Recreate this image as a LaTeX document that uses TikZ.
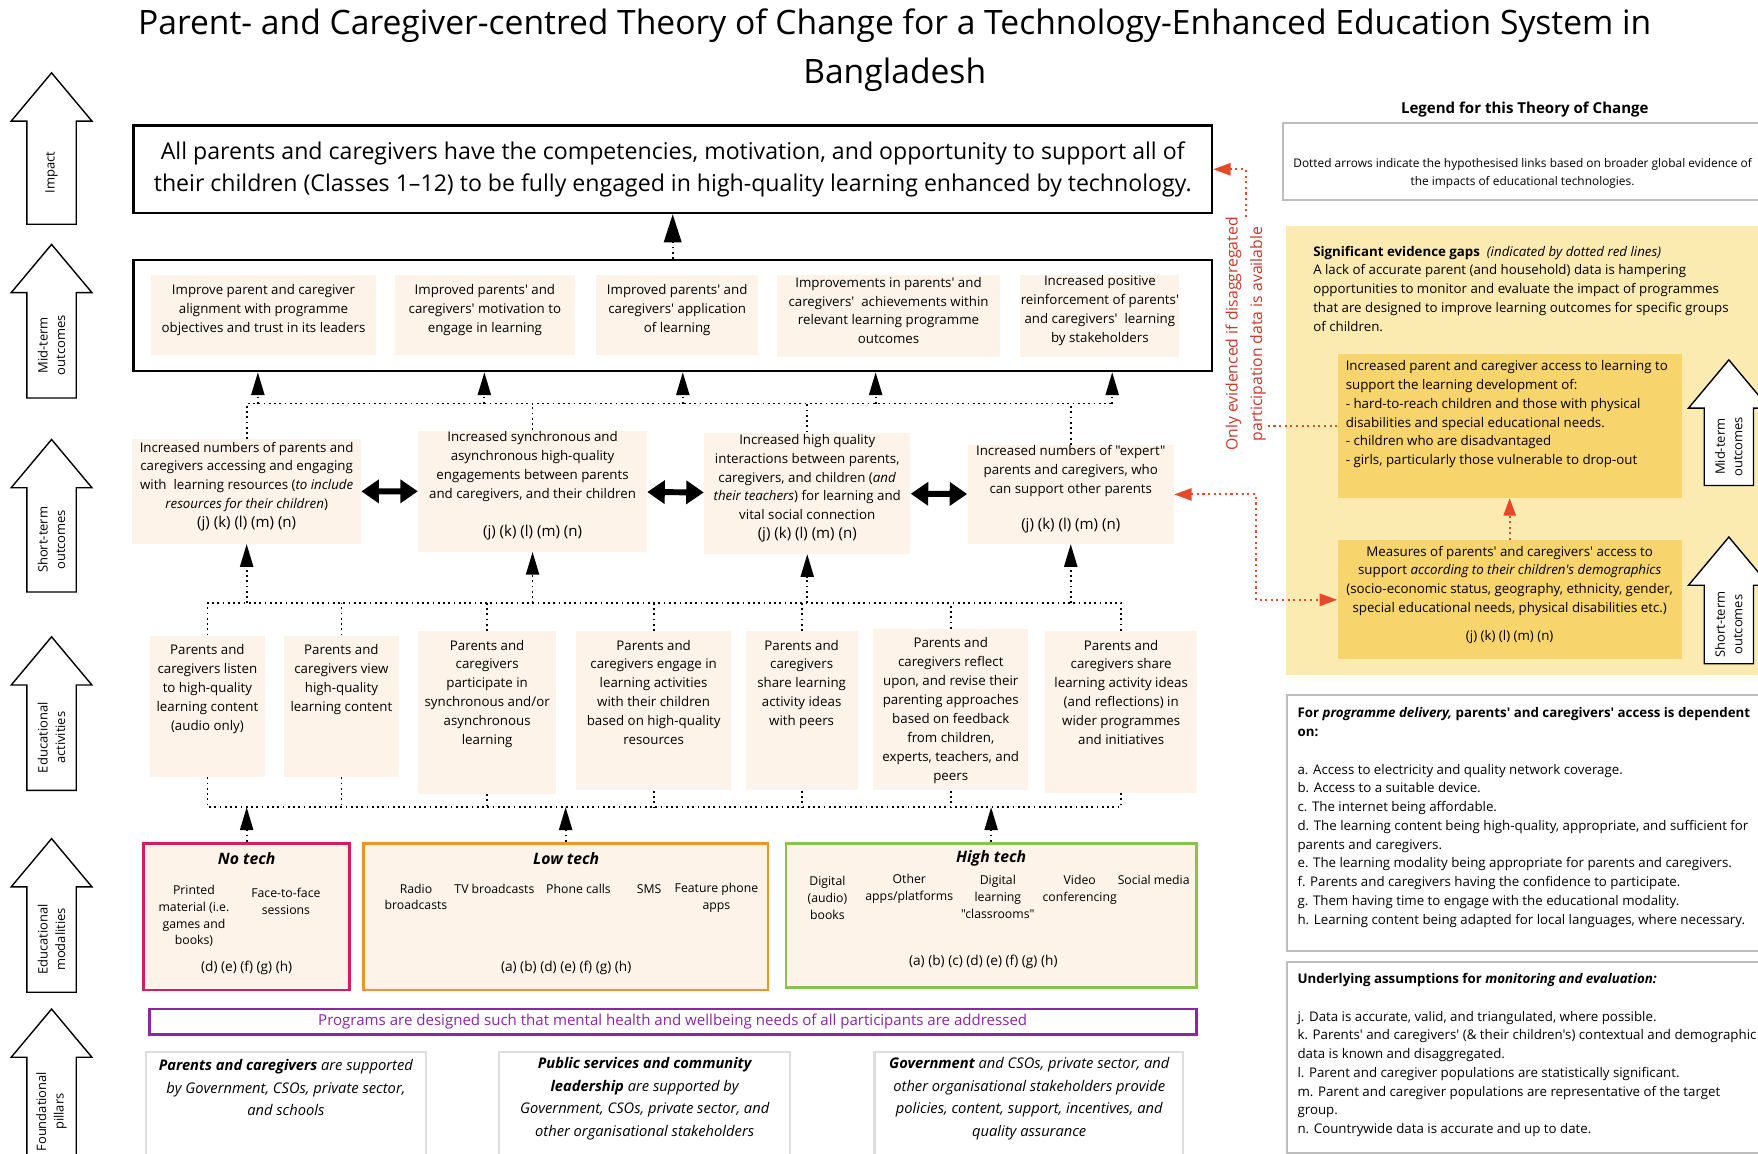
\documentclass[tikz,border=0pt]{standalone}
\usepackage{fontspec}
\setmainfont{Open Sans}[Ligatures=TeXOff]
\usetikzlibrary{arrows.meta,fit,positioning}

\definecolor{cream}{HTML}{FDF3E8}
\definecolor{lyel}{HTML}{FCEBB1}
\definecolor{dyel}{HTML}{F8D46C}
\definecolor{ered}{HTML}{E8482A}
\definecolor{tred}{HTML}{C9372C}
\definecolor{notech}{HTML}{D81B60}
\definecolor{lowtech}{HTML}{F0932B}
\definecolor{hightech}{HTML}{8BC34A}
\definecolor{purp}{HTML}{8E24AA}
\definecolor{lgrey}{HTML}{BDBDBD}

\newcommand{\fsz}[2]{\fontsize{#1}{#2}\selectfont}

\tikzset{
  txt/.style={font=\fsz{7.6}{10.8}, align=center, inner sep=0},
  item/.style={font=\fsz{7}{9.6}, align=center, inner sep=0},
  cbox/.style={fill=cream, inner sep=0},
  frame/.style={draw, line width=1.4pt, inner sep=0},
  gbox/.style={draw=lgrey, line width=1.2pt, inner sep=0},
  dl/.style={dotted, line width=1pt},
  tip/.style={dl, -{Triangle[length=13pt,width=7.5pt]}},
  dbl/.style={line width=3.4pt, {Triangle[length=10pt,width=13pt]}-{Triangle[length=10pt,width=13pt]}},
  rdl/.style={ered, dotted, line width=1.2pt},
  rtip/.style={rdl, -{Triangle[length=10pt,width=7pt]}},
  blk/.style={draw, line width=0.8pt, fill=white},
}

\begin{document}
\begin{tikzpicture}[x=0.0225cm, y=-0.0225cm]

	\useasboundingbox (0,0) rectangle (1568,1029);
	\clip (0,0) rectangle (1568,1029);
	\fill[white] (0,0) rectangle (1568,1029);

	\node[font=\fsz{19.2}{28}, align=center] (title) at (798,45) {Parent- and Caregiver-centred Theory of Change for a Technology-Enhanced Education System in\\Bangladesh};

	% level arrows
	\foreach \t/\b/\lab in {65/200/Impact, 218/355/{Mid-term\\outcomes}, 392/528/{Short-term\\outcomes}, 568/705/{Educational\\activities}, 748/885/{Educational\\modalities}, 900/1040/{Foundational\\pillars}} {
		\draw[blk] (24,\b) -- (24,\t+43) -- (10,\t+43) -- (46,\t) -- (82,\t+43) -- (68,\t+43) -- (68,\b) -- cycle;
		\node[txt, rotate=90, font=\fsz{7.4}{10}] (lv\t) at (46,{(\t+43+\b)/2}) {\lab};
	}

	% impact
	\node[frame, fit={(119,112) (1081,190)}] (imp) {};
	\node[font=\fsz{13.2}{17.9}, align=center, inner sep=0] (impt) at (imp) {All parents and caregivers have the competencies, motivation, and opportunity to support all of\\their children (Classes 1–12) to be fully engaged in high-quality learning enhanced by technology.};

	% mid-term outcomes
	\node[frame, fit={(119,232) (1081,331)}] (mid) {};
	\node[cbox, txt, fit={(135,245) (335,317)}] (m1) {Improve parent and caregiver\\alignment with programme\\objectives and trust in its leaders};
	\node[cbox, txt, fit={(352,245) (513,317)}] (m2) {Improved parents' and\\caregivers' motivation to\\engage in learning};
	\node[cbox, txt, fit={(532,245) (676,317)}] (m3) {Improved parents' and\\caregivers' application\\of learning};
	\node[cbox, txt, fit={(693,245) (892,318)}] (m4) {Improvements in parents' and\\caregivers'\ \ achievements within\\relevant learning programme\\outcomes};
	\node[cbox, txt, fit={(910,245) (1052,318)}] (m5) {Increased positive\\reinforcement of parents'\\and caregivers'\ \ learning\\by stakeholders};

	\draw[dl, -{Triangle[length=16pt,width=10pt]}] (mid.north) -- (imp.south);

	% short-term outcomes
	\node[cbox, txt, fit={(118,392) (322,485)}] (s1) {Increased numbers of parents and\\caregivers accessing and engaging\\with\ \ learning resources (\textit{to include}\\\textit{resources for their children})\\{\fsz{8.6}{11}(j) (k) (l) (m) (n)}};
	\node[cbox, txt, fit={(373,384) (577,492)}] (s2) {Increased synchronous and\\asynchronous high-quality\\engagements between parents\\and caregivers, and their children\\[11pt]{\fsz{8.6}{11}(j) (k) (l) (m) (n)}};
	\node[cbox, txt, fit={(628,386) (812,494)}] (s3) {Increased high quality\\interactions between parents,\\caregivers, and children (\textit{and}\\\textit{their teachers}) for learning and\\vital social connection\\{\fsz{8.6}{11}(j) (k) (l) (m) (n)}};
	\node[cbox, txt, fit={(863,397) (1047,485)}] (s4) {Increased numbers of "expert"\\parents and caregivers, who\\can support other parents\\[10pt]{\fsz{8.6}{11}(j) (k) (l) (m) (n)}};

	\draw[dbl] (s1) -- (s2);
	\draw[dbl] (s2) -- (s3);
	\draw[dbl] (s3) -- (s4);

	\draw[dl] (s1.north) |- (992,360);
	\foreach \n in {s2,s3,s4}
		\draw[dl] (\n.north) -- (\n.north |- 0,360);
	\foreach \x in {230,432,609,781,992}
		\draw[tip] (\x,360) -- (\x,360 |- mid.south);

	% educational activities
	\node[cbox, fit={(134,567) (236,693)}] (a1) {};
	\node[cbox, fit={(253,567) (356,693)}] (a2) {};
	\node[cbox, fit={(373,563) (496,708)}] (a3) {};
	\node[cbox, fit={(514,563) (652,705)}] (a4) {};
	\node[cbox, fit={(665,563) (765,705)}] (a5) {};
	\node[cbox, fit={(779,561) (917,705)}] (a6) {};
	\node[cbox, fit={(932,563) (1068,707)}] (a7) {};
	\node[txt, anchor=north] (a1t) at ([yshift=-5pt]a1.north) {Parents and\\caregivers listen\\to high-quality\\learning content\\(audio only)};
	\node[txt, anchor=north] (a2t) at ([yshift=-5pt]a2.north) {Parents and\\caregivers view\\high-quality\\learning content};
	\node[txt, anchor=north] (a3t) at ([yshift=-5pt]a3.north) {Parents and\\caregivers\\participate in\\synchronous and/or\\asynchronous\\learning};
	\node[txt, anchor=north] (a4t) at ([yshift=-5pt]a4.north) {Parents and\\caregivers engage in\\learning activities\\with their children\\based on high-quality\\resources};
	\node[txt, anchor=north] (a5t) at ([yshift=-5pt]a5.north) {Parents and\\caregivers\\share learning\\activity ideas\\with peers};
	\node[txt, anchor=north] (a6t) at ([yshift=-5pt]a6.north) {Parents and\\caregivers reflect\\upon, and revise their\\parenting approaches\\based on feedback\\from children,\\experts, teachers, and\\peers};
	\node[txt, anchor=north] (a7t) at ([yshift=-5pt]a7.north) {Parents and\\caregivers share\\learning activity ideas\\(and reflections) in\\wider programmes\\and initiatives};

	\draw[dl] (a1.north) |- (a7.north |- 0,538) -- (a7.north);
	\foreach \n in {a2,a3,a4,a5,a6}
		\draw[dl] (\n.north) -- (\n.north |- 0,538);
	\foreach \n in {s1,s2,s3,s4}
		\draw[tip] (\n.south |- 0,538) -- (\n.south);

	\draw[dl] (a1.south) |- (a7.south |- 0,720) -- (a7.south);
	\foreach \n in {a2,a3,a4,a5,a6}
		\draw[dl] (\n.south) -- (\n.south |- 0,720);

	% educational modalities
	\node[cbox, draw=notech, line width=1.6pt, fit={(128,752) (312,883)}] (nt) {};
	\node[font=\fsz{9}{11}\bfseries\itshape] (ntt) at (220,766) {No tech};
	\node[item] (nt1) at (173,817) {Printed\\material (i.e.\\games and\\books)};
	\node[item] (nt2) at (255,804) {Face-to-face\\sessions};
	\node[item, font=\fsz{7.8}{10}] (ntc) at (220,863) {(d) (e) (f) (g) (h)};

	\node[cbox, draw=lowtech, line width=1.6pt, fit={(324,752) (685,883)}] (lt) {};
	\node[font=\fsz{9}{11}\bfseries\itshape] (ltt) at (505,766) {Low tech};
	\node[item] (lt1) at (371,800) {Radio\\broadcasts};
	\node[item] (lt2) at (441,793) {TV broadcasts};
	\node[item] (lt3) at (516,793) {Phone calls};
	\node[item] (lt4) at (579,793) {SMS};
	\node[item] (lt5) at (639,801) {Feature phone\\apps};
	\node[item, font=\fsz{7.8}{10}] (ltc) at (505,863) {(a) (b) (d) (e) (f) (g) (h)};

	\node[cbox, draw=hightech, line width=1.6pt, fit={(701,752) (1067,881)}] (ht) {};
	\node[font=\fsz{9}{11}\bfseries\itshape] (htt) at (884,766) {High tech};
	\node[item] (ht1) at (738,801) {Digital\\(audio)\\books};
	\node[item] (ht2) at (811,793) {Other\\apps/platforms};
	\node[item] (ht3) at (890,800) {Digital\\learning\\"classrooms"};
	\node[item] (ht4) at (963,794) {Video\\conferencing};
	\node[item] (ht5) at (1029,785) {Social media};
	\node[item, font=\fsz{7.8}{10}] (htc) at (877,858) {(a) (b) (c) (d) (e) (f) (g) (h)};

	\foreach \n in {nt,lt,ht}
		\draw[tip] (\n.north) -- (\n.north |- 0,720);

	% foundational pillars
	\node[draw=purp, line width=1.6pt, inner sep=0, fit={(133,900) (1067,923)}] (pur) {};
	\node[text=purp, font=\fsz{8.6}{10}, inner sep=0] (purt) at (pur) {Programs are designed such that mental health and wellbeing needs of all participants are addressed};
	\node[gbox, draw=lgrey!50, fit={(130,938) (380,1040)}] (f1) {};
	\node[gbox, draw=lgrey!50, fit={(445,938) (705,1040)}] (f2) {};
	\node[gbox, draw=lgrey!50, fit={(780,938) (1055,1040)}] (f3) {};
	\node[font=\fsz{8.4}{12.8}\itshape, align=center] (f1t) at (255,970) {\textbf{Parents and caregivers} are supported\\by Government, CSOs, private sector,\\and schools};
	\node[font=\fsz{8.4}{12.8}\itshape, align=center] (f2t) at (575,980) {\textbf{Public services and community}\\\textbf{leadership} are supported by\\Government, CSOs, private sector, and\\other organisational stakeholders};
	\node[font=\fsz{8.4}{12.8}\itshape, align=center] (f3t) at (918,980) {\textbf{Government} and CSOs, private sector, and\\other organisational stakeholders provide\\policies, content, support, incentives, and\\quality assurance};

	% legend
	\node[font=\fsz{8.6}{10}\bfseries] (legt) at (1360,98) {Legend for this Theory of Change};
	\node[gbox, fit={(1144,110) (1590,178)}] (leg) {};
	\node[txt, font=\fsz{6.8}{10.2}] (legx) at (1358,155) {Dotted arrows indicate the hypothesised links based on broader global evidence of\\the impacts of educational technologies.};

	\node[fill=lyel, inner sep=0, fit={(1147,202) (1590,602)}] (gap) {};
	\node[txt, align=left, anchor=north west, font=\fsz{7.6}{10.8}] (gapt) at (1171,219) {\textbf{Significant evidence gaps}\ \ \textit{(indicated by dotted red lines)}\\A lack of accurate parent (and household) data is hampering\\opportunities to monitor and evaluate the impact of programmes\\that are designed to improve learning outcomes for specific groups\\of children.};
	\node[fill=dyel, inner sep=0, fit={(1193,316) (1500,444)}] (ga) {};
	\node[txt, align=left, anchor=north west] (gat) at (1200,321) {Increased parent and caregiver access to learning to\\support the learning development of:\\- hard-to-reach children and those with physical\\disabilities and special educational needs.\\- children who are disadvantaged\\- girls, particularly those vulnerable to drop-out};
	\node[fill=dyel, txt, fit={(1193,482) (1500,588)}] (gb) {Measures of parents' and caregivers' access to\\support \textit{according to their children's demographics}\\(socio-economic status, geography, ethnicity, gender,\\special educational needs, physical disabilities etc.)\\[5pt](j) (k) (l) (m) (n)};
	\draw[rtip] (gb.north) -- (ga.south);

	\foreach \t/\b/\lab in {321/433/{Mid-term\\outcomes}, 479/592/{Short-term\\outcomes}} {
		\draw[blk] (1520,\b) -- (1520,\t+43) -- (1506,\t+43) -- (1542,\t) -- (1578,\t+43) -- (1564,\t+43) -- (1564,\b) -- cycle;
		\node[txt, rotate=90, font=\fsz{7.4}{10}] (rv\t) at (1542,{(\t+43+\b)/2}) {\lab};
	}

	% red links
	\node[rotate=90, text=tred, font=\fsz{9}{14}, align=center, inner sep=0] (only) at (1111,298) {Only evidenced if disaggregated\\participation data is available};
	\draw[rdl] (ga.west) -- (ga.west -| only.south);
	\draw[rtip] (only.east) |- (imp.east);
	\draw[rdl, {Triangle[length=10pt,width=7pt]}-{Triangle[length=10pt,width=7pt]}] (s4.east) -- ++(73,0) |- (gb.west);

	% assumptions
	\node[gbox, fit={(1148,620) (1590,848)}] (dep) {};
	\node[txt, align=left, anchor=north west, font=\fsz{7.6}{10.7}] (dept) at (1157,631) {\textbf{For \textit{programme delivery,} parents' and caregivers' access is dependent}\\\textbf{on:}\\[10.7pt]a. Access to electricity and quality network coverage.\\b. Access to a suitable device.\\c. The internet being affordable.\\d. The learning content being high-quality, appropriate, and sufficient for\\parents and caregivers.\\e. The learning modality being appropriate for parents and caregivers.\\f. Parents and caregivers having the confidence to participate.\\g. Them having time to engage with the educational modality.\\h. Learning content being adapted for local languages, where necessary.};

	\node[gbox, fit={(1148,858) (1590,1028)}] (ua) {};
	\node[txt, align=left, anchor=north west, font=\fsz{7.6}{10.7}] (uat) at (1157,868) {\textbf{Underlying assumptions for \textit{monitoring and evaluation:}}\\[10.7pt]j. Data is accurate, valid, and triangulated, where possible.\\k. Parents' and caregivers' (\& their children's) contextual and demographic\\data is known and disaggregated.\\l. Parent and caregiver populations are statistically significant.\\m. Parent and caregiver populations are representative of the target\\group.\\n. Countrywide data is accurate and up to date.};

\end{tikzpicture}
\end{document}
